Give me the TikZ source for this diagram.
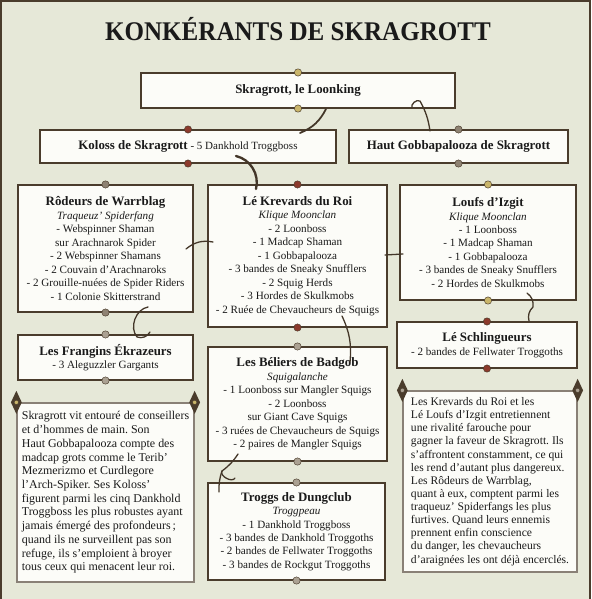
\documentclass[tikz,border=0pt]{standalone}
\usepackage{fontspec}
\setmainfont{Liberation Serif}
\newfontfamily\titlefont[FakeStretch=0.93]{Liberation Serif}
\usepackage{xcolor}
\usepackage{tikz}
\usetikzlibrary{shapes.geometric}
\pgfdeclarelayer{bglayer}
\pgfdeclarelayer{nodelayer}
\pgfdeclarelayer{edgelayer}
\pgfsetlayers{bglayer,nodelayer,edgelayer,main}
\frenchspacing
\definecolor{parchment}{HTML}{E6E8D8}
\definecolor{scrollwhite}{HTML}{FCFCF8}
\definecolor{edgebrown}{HTML}{4A3C2C}
\definecolor{inkblack}{HTML}{1A1A1A}
\definecolor{moonyellow}{HTML}{C9B56A}
\definecolor{bloodred}{HTML}{8C3A2C}
\definecolor{bonegrey}{HTML}{8E8272}
\definecolor{palebone}{HTML}{ABA192}
\newcommand{\boxhead}[1]{{\fontsize{11}{13}\selectfont\bfseries #1}}
\tikzset{
    none/.style = {inner sep=0pt},
    scroll/.style = {draw=edgebrown, line width=0.9pt, fill=scrollwhite, inner sep=0pt,
        align=center, text=inkblack, font=\fontsize{9.5}{11.5}\selectfont},
    panel/.style = {draw=edgebrown!65, line width=1.1pt, fill=scrollwhite, inner sep=0pt,
        align=left, text=inkblack},
    knob/.style = {circle, draw=edgebrown, line width=0.4pt, fill=#1, inner sep=0pt, minimum size=0.22cm},
    gem/.style = {diamond, fill=edgebrown, inner sep=0pt, minimum width=0.33cm, minimum height=0.7cm},
    root/.style = {draw=edgebrown!90!black, line width=1.1pt, line cap=round}
}

\begin{document}
\begin{tikzpicture}[x=0.03cm, y=-0.03cm]
    \useasboundingbox (0, 0) rectangle (591, 599);

    \begin{pgfonlayer}{bglayer}
        \fill [parchment] (0, 0) rectangle (591, 599);
        \draw [edgebrown, line width=1.4pt] (1, 599) -- (1, 1) -- (590, 1) -- (590, 599);
    \end{pgfonlayer}

    \begin{pgfonlayer}{nodelayer}
        \node [style=none, anchor=base, text=inkblack, font={\titlefont\fontsize{23}{26}\selectfont\bfseries}] (title) at (298, 41) {KONKÉRANTS DE SKRAGROTT};

        \node [style=scroll, minimum width=9.42cm, minimum height=1.05cm] (0) at (298, 90.5) {\boxhead{Skragrott, le Loonking}};
        \node [style=scroll, minimum width=8.88cm, minimum height=0.99cm] (1) at (188, 146.5) {\boxhead{Koloss de Skragrott} {\fontsize{9.4}{11}\selectfont - 5 Dankhold Troggboss}};
        \node [style=scroll, minimum width=6.57cm, minimum height=0.99cm] (2) at (458.5, 146.5) {\boxhead{Haut Gobbapalooza de Skragrott}};

        \node [style=scroll, minimum width=5.25cm, minimum height=3.81cm] (3) at (105.5, 248.5) {\boxhead{Rôdeurs de Warrblag}\\ \textit{Traqueuz' Spiderfang}\\ - Webspinner Shaman\\ sur Arachnarok Spider\\ - 2 Webspinner Shamans\\ - 2 Couvain d'Arachnaroks\\ - 2 Grouille-nuées de Spider Riders\\ - 1 Colonie Skitterstrand};
        \node [style=scroll, minimum width=5.37cm, minimum height=4.26cm] (4) at (297.5, 256) {\boxhead{Lé Krevards du Roi}\\ \textit{Klique Moonclan}\\ - 2 Loonboss\\ - 1 Madcap Shaman\\ - 1 Gobbapalooza\\ - 3 bandes de Sneaky Snufflers\\ - 2 Squig Herds\\ - 3 Hordes de Skulkmobs\\ - 2 Ruée de Chevaucheurs de Squigs};
        \node [style=scroll, minimum width=5.28cm, minimum height=3.45cm] (5) at (488, 242.5) {\boxhead{Loufs d'Izgit}\\ \textit{Klique Moonclan}\\ - 1 Loonboss\\ - 1 Madcap Shaman\\ - 1 Gobbapalooza\\ - 3 bandes de Sneaky Snufflers\\ - 2 Hordes de Skulkmobs};

        \node [style=scroll, minimum width=5.25cm, minimum height=1.35cm] (6) at (105.5, 357.5) {\boxhead{Les Frangins Ékrazeurs}\\ - 3 Aleguzzler Gargants};
        \node [style=scroll, minimum width=5.37cm, minimum height=3.42cm] (7) at (297.5, 404) {\boxhead{Les Béliers de Badgob}\\ \textit{Squigalanche}\\ - 1 Loonboss sur Mangler Squigs\\ - 2 Loonboss\\ sur Giant Cave Squigs\\ - 3 ruées de Chevaucheurs de Squigs\\ - 2 paires de Mangler Squigs};
        \node [style=scroll, minimum width=5.4cm, minimum height=1.38cm] (8) at (487, 345) {\boxhead{Lé Schlingueurs}\\ - 2 bandes de Fellwater Troggoths};
        \node [style=scroll, minimum width=5.31cm, minimum height=2.91cm] (9) at (296.5, 531.5) {\boxhead{Troggs de Dungclub}\\ \textit{Troggpeau}\\ - 1 Dankhold Troggboss\\ - 3 bandes de Dankhold Troggoths\\ - 2 bandes de Fellwater Troggoths\\ - 3 bandes de Rockgut Troggoths};

        \node [style=panel, minimum width=5.31cm, minimum height=5.37cm, font=\fontsize{10.2}{11.7}\selectfont] (10) at (105.5, 492.5) {Skragrott vit entouré de conseillers\\ et d'hommes de main. Son\\ Haut Gobbapalooza compte des\\ madcap grots comme le Terib'\\ Mezmerizmo et Curdlegore\\ l'Arch-Spiker. Ses Koloss'\\ figurent parmi les cinq Dankhold\\ Troggboss les plus robustes ayant\\ jamais émergé des profondeurs\,;\\ quand ils ne surveillent pas son\\ refuge, ils s'emploient à broyer\\ tous ceux qui menacent leur roi.};
        \node [style=panel, minimum width=5.22cm, minimum height=5.43cm, font=\fontsize{9.9}{11.2}\selectfont] (11) at (490, 481.5) {Les Krevards du Roi et les\\ Lé Loufs d'Izgit entretiennent\\ une rivalité farouche pour\\ gagner la faveur de Skragrott. Ils\\ s'affrontent constamment, ce qui\\ les rend d'autant plus dangereux.\\ Les Rôdeurs de Warrblag,\\ quant à eux, comptent parmi les\\ traqueuz' Spiderfangs les plus\\ furtives. Quand leurs ennemis\\ prennent enfin conscience\\ du danger, les chevaucheurs\\ d'araignées les ont déjà encerclés.};

        % knobs on the scrolls
        \node [knob=moonyellow] (12) at (0.north) {};
        \node [knob=moonyellow] (13) at (0.south) {};
        \node [knob=bloodred] (14) at (1.north) {};
        \node [knob=bloodred] (15) at (1.south) {};
        \node [knob=bonegrey] (16) at (2.north) {};
        \node [knob=bonegrey] (17) at (2.south) {};
        \node [knob=bonegrey] (18) at (3.north) {};
        \node [knob=bonegrey] (19) at (3.south) {};
        \node [knob=bloodred] (20) at (4.north) {};
        \node [knob=bloodred] (21) at (4.south) {};
        \node [knob=moonyellow] (22) at (5.north) {};
        \node [knob=moonyellow] (23) at (5.south) {};
        \node [knob=palebone] (24) at (6.north) {};
        \node [knob=palebone] (25) at (6.south) {};
        \node [knob=palebone] (26) at (7.north) {};
        \node [knob=palebone] (27) at (7.south) {};
        \node [knob=bloodred] (28) at (8.north) {};
        \node [knob=bloodred] (29) at (8.south) {};
        \node [knob=palebone] (30) at (9.north) {};
        \node [knob=palebone] (31) at (9.south) {};

        % gems on the text panels
        \node [style=gem] (32) at (10.north west) {};
        \node [style=gem] (33) at (10.north east) {};
        \node [style=gem] (34) at (11.north west) {};
        \node [style=gem] (35) at (11.north east) {};
        \node [knob=moonyellow, minimum size=0.13cm] (36) at (32.center) {};
        \node [knob=moonyellow, minimum size=0.13cm] (37) at (33.center) {};
        \node [knob=palebone, minimum size=0.13cm] (38) at (34.center) {};
        \node [knob=palebone, minimum size=0.13cm] (39) at (35.center) {};

        % root ends
        \node [style=none] (40) at (326, 109) {};
        \node [style=none] (41) at (300, 133) {};
        \node [style=none] (42) at (430, 131) {};
        \node [style=none] (43) at (420, 101) {};
        \node [style=none] (44) at (412, 108) {};
        \node [style=none] (45) at (236, 156) {};
        \node [style=none] (46) at (256, 189) {};
        \node [style=none] (47) at (186, 249) {};
        \node [style=none] (48) at (213, 242) {};
        \node [style=none] (49) at (385, 255) {};
        \node [style=none] (50) at (403, 254) {};
        \node [style=none] (51) at (527, 293) {};
        \node [style=none] (52) at (533, 307) {};
        \node [style=none] (53) at (529, 321) {};
        \node [style=none] (54) at (148, 307) {};
        \node [style=none] (55) at (137, 337) {};
        \node [style=none] (56) at (150, 332) {};
        \node [style=none] (57) at (342, 316) {};
        \node [style=none] (58) at (350, 362) {};
        \node [style=none] (59) at (238, 454) {};
        \node [style=none] (60) at (222, 471) {};
        \node [style=none] (61) at (235, 478) {};
        \node [style=none] (62) at (219, 492) {};
    \end{pgfonlayer}

    \begin{pgfonlayer}{edgelayer}
        \draw [style=root, line width=1.5pt] (40.center) to [bend left=20] (41.center);
        \draw [style=root] (42.center) to [bend right=10] (43.center) to [bend right=70] (44.center);
        \draw [style=root, line width=2pt] (45.center) to [bend left=45] (46.center);
        \draw [style=root] (47.center) to [bend left=25] (48.center);
        \draw [style=root] (49.center) to (50.center);
        \draw [style=root] (51.center) to [bend left=30] (52.center) to [bend right=30] (53.center);
        \draw [style=root] (54.center) to [bend right=60] (55.center) to [bend right=40] (56.center);
        \draw [style=root] (57.center) to [bend left=15] (58.center);
        \draw [style=root] (59.center) to [bend left=10] (60.center) to [bend right=90] (61.center);
        \draw [style=root] (60.center) to [bend right=10] (62.center);
    \end{pgfonlayer}
\end{tikzpicture}
\end{document}
